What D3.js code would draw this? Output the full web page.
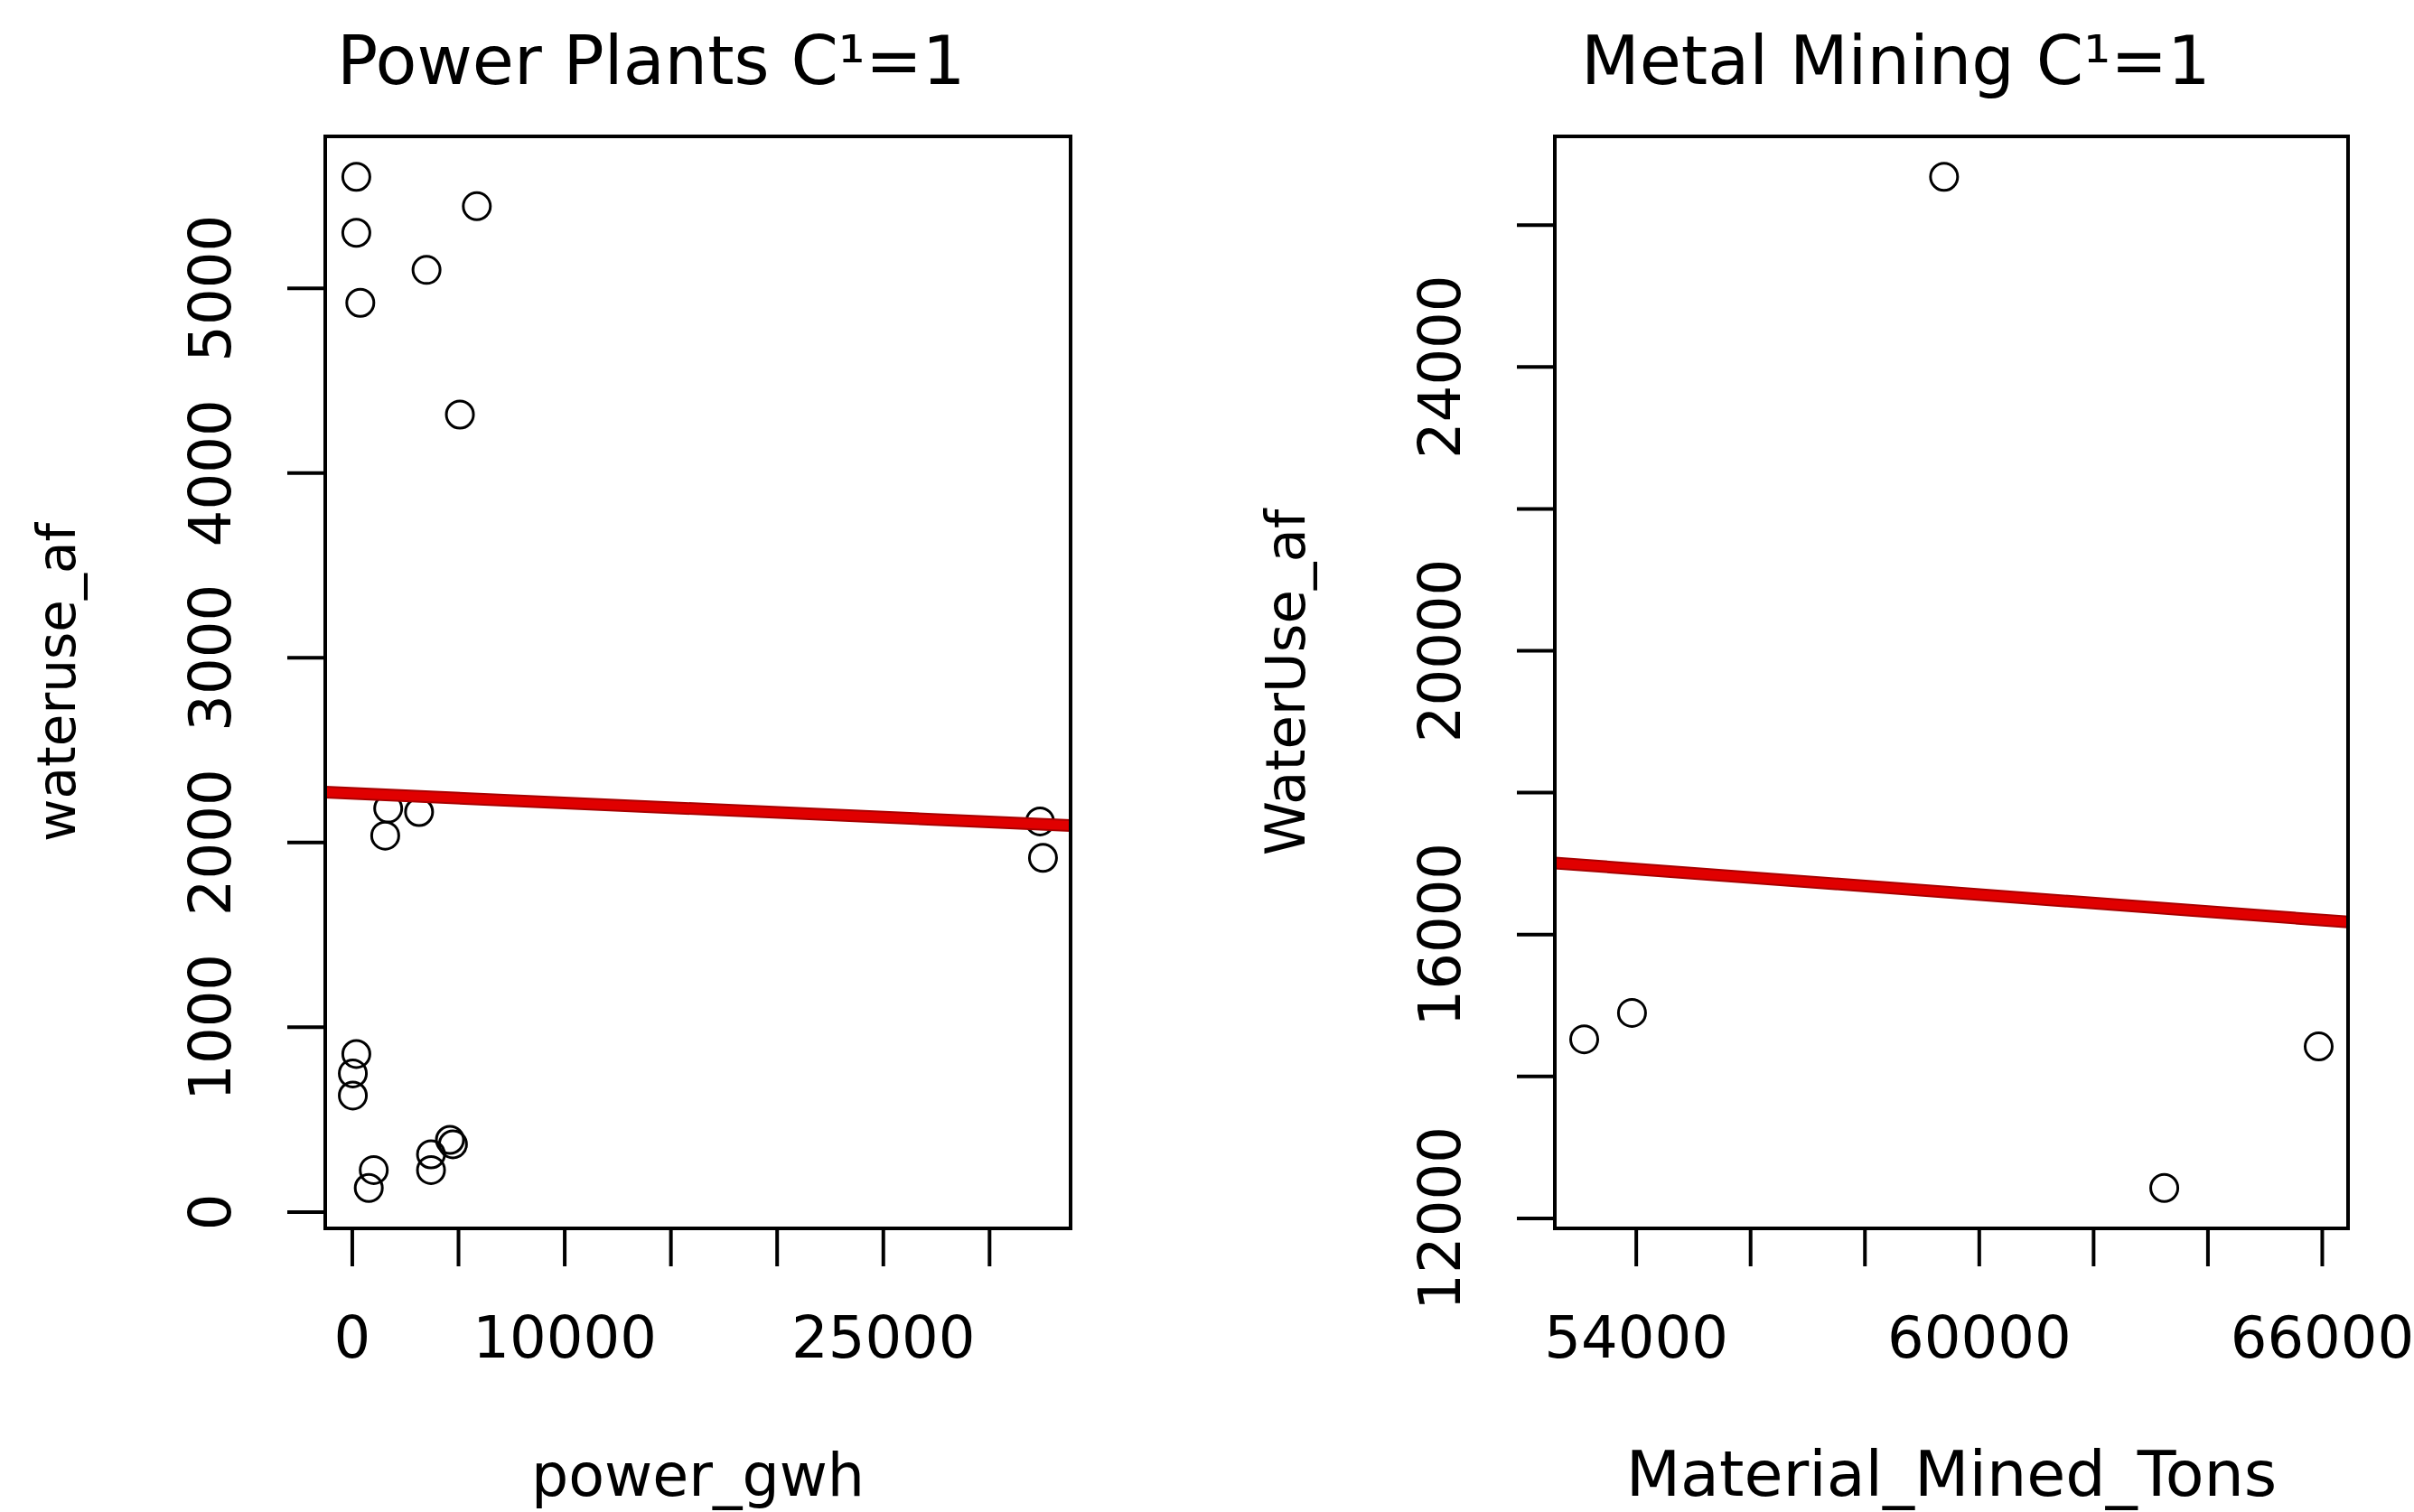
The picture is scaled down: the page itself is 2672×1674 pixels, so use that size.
<!DOCTYPE html>
<meta charset="utf-8">
<style>
body { margin: 0; background: #fff; }
text { font-family: "DejaVu Sans", Verdana, sans-serif; fill: #000; }
</style>
<html lang="en">
<body>
<script src="https://d3js.org/d3.v7.min.js"></script>
<script>

// Power Plants panel
var powerGwh   = [211, 211, 398, 3516, 5884, 5087, 1711, 1571, 3165, 32396, 32536, 211, 47, 47, 1031, 797, 3727, 3727, 4618, 4759];
var powerWater = [5601, 5298, 4919, 5097, 5442, 4314, 2182, 2035, 2163, 2112, 1915, 853, 748, 628, 225, 128, 310, 225, 388, 364];
var powerFit = [2264, -0.00516];   // intercept, slope
var powerXTicks = [0, 5000, 10000, 15000, 20000, 25000, 30000];
var powerXLabels = [0, 10000, 25000];
var powerYTicks = [0, 1000, 2000, 3000, 4000, 5000];
var powerYLabels = [0, 1000, 2000, 3000, 4000, 5000];

// Metal Mining panel
var minedTons  = [53097, 53933, 59392, 63244, 65945];
var minedWater = [14518, 14890, 26673, 12423, 14417];
var minedFit = [20158, -0.060];
var minedXTicks = [54000, 56000, 58000, 60000, 62000, 64000, 66000];
var minedXLabels = [54000, 60000, 66000];
var minedYTicks = [12000, 14000, 16000, 18000, 20000, 22000, 24000, 26000];
var minedYLabels = [12000, 16000, 20000, 24000];

var width = 2672, height = 1674;

var svg = d3.select('body')
  .append('svg')
  .attr('width', width)
  .attr('height', height);

// R style axis limits: data range plus 4% each side
function rlim(v) {
  var e = d3.extent(v), d = (e[1] - e[0]) * 0.04;
  return [e[0] - d, e[1] + d];
}

function panel(p) {
  var xScale = d3.scaleLinear().domain(rlim(p.x)).range([p.left, p.right]);
  var yScale = d3.scaleLinear().domain(rlim(p.y)).range([p.bottom, p.top]);

  var g = svg.append('g');

  // x axis
  var xAxis = d3.axisBottom(xScale)
    .tickValues(p.xTicks)
    .tickSize(40)
    .tickFormat(function(d) { return p.xLabels.indexOf(d) >= 0 ? String(d) : ''; });
  var gx = g.append('g')
    .attr('transform', 'translate(0,' + (p.bottom + 2) + ')')
    .call(xAxis);
  gx.select('.domain').remove();
  gx.selectAll('line').attr('stroke', '#000').attr('stroke-width', 4);
  gx.selectAll('text')
    .attr('y', 141).attr('dy', 0)
    .style('font-size', '64px')
    .style('font-family', '"DejaVu Sans", Verdana, sans-serif');

  // y axis
  var yAxis = d3.axisLeft(yScale)
    .tickValues(p.yTicks)
    .tickSize(40)
    .tickFormat(function(d) { return p.yLabels.indexOf(d) >= 0 ? String(d) : ''; });
  var gy = g.append('g')
    .attr('transform', 'translate(' + (p.left - 2) + ',0)')
    .call(yAxis);
  gy.select('.domain').remove();
  gy.selectAll('line').attr('stroke', '#000').attr('stroke-width', 4);
  gy.selectAll('text')
    .attr('x', 0).attr('y', 0).attr('dy', 0)
    .attr('transform', 'translate(-103,0) rotate(-90)')
    .style('text-anchor', 'middle')
    .style('font-size', '64px')
    .style('font-family', '"DejaVu Sans", Verdana, sans-serif');

  // points
  g.selectAll('.pt')
    .data(d3.range(p.x.length))
    .enter().append('circle')
    .attr('class', 'pt')
    .attr('cx', function(i) { return xScale(p.x[i]); })
    .attr('cy', function(i) { return yScale(p.y[i]); })
    .attr('r', 15)
    .attr('fill', 'none')
    .attr('stroke', '#000')
    .attr('stroke-width', 3);

  // fitted line across the plot region
  var xd = xScale.domain();
  var fitPts = xd.map(function(x) { return [x, p.fit[0] + p.fit[1] * x]; });
  var line = d3.line()
    .x(function(d) { return xScale(d[0]); })
    .y(function(d) { return yScale(d[1]); });
  g.append('path').attr('d', line(fitPts))
    .attr('fill', 'none').attr('stroke', '#a80000').attr('stroke-width', 14);
  g.append('path').attr('d', line(fitPts))
    .attr('fill', 'none').attr('stroke', '#e00000').attr('stroke-width', 10);

  // box
  g.append('rect')
    .attr('x', p.left).attr('y', p.top)
    .attr('width', p.right - p.left).attr('height', p.bottom - p.top)
    .attr('fill', 'none').attr('stroke', '#000').attr('stroke-width', 4);

  // title
  g.append('text')
    .attr('x', p.titleX).attr('y', 93)
    .style('font-size', '75px')
    .text(p.title);

  // x label
  g.append('text')
    .attr('x', (p.left + p.right) / 2).attr('y', 1656)
    .style('text-anchor', 'middle')
    .style('font-size', p.xlabSize + 'px')
    .text(p.xlab);

  // y label
  g.append('text')
    .attr('transform', 'translate(' + (p.left - 277) + ',' + ((p.top + p.bottom) / 2) + ') rotate(-90)')
    .style('text-anchor', 'middle')
    .style('font-size', p.ylabSize + 'px')
    .text(p.ylab);
}

panel({
  x: powerGwh, y: powerWater, fit: powerFit,
  xTicks: powerXTicks, xLabels: powerXLabels,
  yTicks: powerYTicks, yLabels: powerYLabels,
  left: 360, right: 1185, top: 151, bottom: 1360,
  title: 'Power Plants C\u00b9=1', titleX: 373,
  xlab: 'power_gwh', ylab: 'wateruse_af', xlabSize: 65, ylabSize: 58
});

panel({
  x: minedTons, y: minedWater, fit: minedFit,
  xTicks: minedXTicks, xLabels: minedXLabels,
  yTicks: minedYTicks, yLabels: minedYLabels,
  left: 1721, right: 2599, top: 151, bottom: 1360,
  title: 'Metal Mining C\u00b9=1', titleX: 1750,
  xlab: 'Material_Mined_Tons', ylab: 'WaterUse_af', xlabSize: 70, ylabSize: 61
});

</script>
</body>
</html>
